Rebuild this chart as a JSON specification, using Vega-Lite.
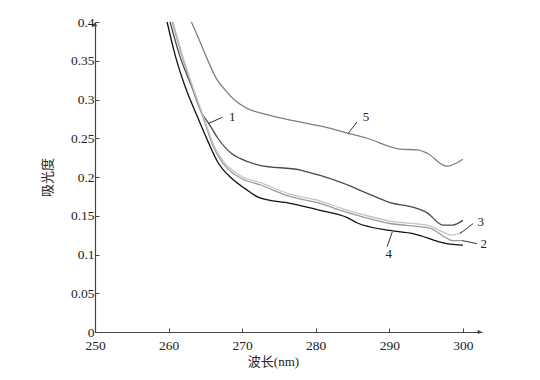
{
  "$schema": "https://vega.github.io/schema/vega-lite/v6.json",
  "width": 387,
  "height": 310,
  "autosize": {"type": "none"},
  "padding": {"left": 95, "top": 22, "right": 58, "bottom": 48},
  "background": "white",
  "config": {
    "view": {"stroke": null},
    "font": "Liberation Serif",
    "axis": {
      "grid": false,
      "domainColor": "#444",
      "domainWidth": 1.2,
      "tickColor": "#444",
      "tickSize": -4,
      "labelFont": "Liberation Serif",
      "labelFontSize": 13.5,
      "labelColor": "#222",
      "labelOverlap": false,
      "labelFlush": false,
      "titleFont": "Liberation Serif, Noto Sans CJK SC",
      "titleFontSize": 13,
      "titleFontWeight": "normal",
      "titleColor": "#222"
    }
  },
  "datasets": {
    "curves": [
      {"s": "4", "x": 259.8, "y": 0.400},
      {"s": "4", "x": 260.9, "y": 0.357},
      {"s": "4", "x": 262.2, "y": 0.318},
      {"s": "4", "x": 264.0, "y": 0.276},
      {"s": "4", "x": 265.4, "y": 0.245},
      {"s": "4", "x": 266.7, "y": 0.219},
      {"s": "4", "x": 268.6, "y": 0.198},
      {"s": "4", "x": 270.4, "y": 0.185},
      {"s": "4", "x": 272.4, "y": 0.173},
      {"s": "4", "x": 276.5, "y": 0.166},
      {"s": "4", "x": 280.6, "y": 0.157},
      {"s": "4", "x": 284.2, "y": 0.148},
      {"s": "4", "x": 285.6, "y": 0.141},
      {"s": "4", "x": 290.1, "y": 0.131},
      {"s": "4", "x": 293.2, "y": 0.127},
      {"s": "4", "x": 297.8, "y": 0.114},
      {"s": "4", "x": 300.0, "y": 0.112},
      {"s": "1", "x": 260.2, "y": 0.400},
      {"s": "1", "x": 261.5, "y": 0.357},
      {"s": "1", "x": 263.2, "y": 0.315},
      {"s": "1", "x": 264.5, "y": 0.283},
      {"s": "1", "x": 265.6, "y": 0.267},
      {"s": "1", "x": 266.7, "y": 0.250},
      {"s": "1", "x": 268.6, "y": 0.230},
      {"s": "1", "x": 269.7, "y": 0.224},
      {"s": "1", "x": 272.4, "y": 0.215},
      {"s": "1", "x": 277.9, "y": 0.209},
      {"s": "1", "x": 280.6, "y": 0.202},
      {"s": "1", "x": 283.7, "y": 0.192},
      {"s": "1", "x": 287.0, "y": 0.179},
      {"s": "1", "x": 290.1, "y": 0.167},
      {"s": "1", "x": 293.2, "y": 0.161},
      {"s": "1", "x": 295.1, "y": 0.154},
      {"s": "1", "x": 297.3, "y": 0.138},
      {"s": "1", "x": 298.6, "y": 0.138},
      {"s": "1", "x": 300.0, "y": 0.144},
      {"s": "2", "x": 260.5, "y": 0.400},
      {"s": "2", "x": 261.8, "y": 0.357},
      {"s": "2", "x": 264.9, "y": 0.271},
      {"s": "2", "x": 266.0, "y": 0.241},
      {"s": "2", "x": 267.3, "y": 0.219},
      {"s": "2", "x": 269.7, "y": 0.199},
      {"s": "2", "x": 272.4, "y": 0.190},
      {"s": "2", "x": 276.5, "y": 0.175},
      {"s": "2", "x": 280.6, "y": 0.166},
      {"s": "2", "x": 283.7, "y": 0.156},
      {"s": "2", "x": 287.0, "y": 0.147},
      {"s": "2", "x": 290.1, "y": 0.140},
      {"s": "2", "x": 295.5, "y": 0.134},
      {"s": "2", "x": 297.8, "y": 0.121},
      {"s": "2", "x": 298.6, "y": 0.118},
      {"s": "2", "x": 299.9, "y": 0.118},
      {"s": "3", "x": 260.6, "y": 0.400},
      {"s": "3", "x": 261.9, "y": 0.357},
      {"s": "3", "x": 265.0, "y": 0.271},
      {"s": "3", "x": 266.1, "y": 0.242},
      {"s": "3", "x": 267.4, "y": 0.221},
      {"s": "3", "x": 269.7, "y": 0.202},
      {"s": "3", "x": 272.4, "y": 0.193},
      {"s": "3", "x": 276.5, "y": 0.178},
      {"s": "3", "x": 280.6, "y": 0.169},
      {"s": "3", "x": 283.7, "y": 0.159},
      {"s": "3", "x": 287.0, "y": 0.150},
      {"s": "3", "x": 290.1, "y": 0.143},
      {"s": "3", "x": 295.5, "y": 0.137},
      {"s": "3", "x": 297.3, "y": 0.129},
      {"s": "3", "x": 298.5, "y": 0.125},
      {"s": "3", "x": 299.9, "y": 0.129},
      {"s": "5", "x": 263.1, "y": 0.400},
      {"s": "5", "x": 264.3, "y": 0.374},
      {"s": "5", "x": 265.4, "y": 0.349},
      {"s": "5", "x": 266.5, "y": 0.327},
      {"s": "5", "x": 267.7, "y": 0.312},
      {"s": "5", "x": 269.0, "y": 0.299},
      {"s": "5", "x": 270.8, "y": 0.288},
      {"s": "5", "x": 273.1, "y": 0.281},
      {"s": "5", "x": 275.8, "y": 0.275},
      {"s": "5", "x": 279.4, "y": 0.268},
      {"s": "5", "x": 281.9, "y": 0.263},
      {"s": "5", "x": 284.2, "y": 0.257},
      {"s": "5", "x": 287.0, "y": 0.250},
      {"s": "5", "x": 291.4, "y": 0.236},
      {"s": "5", "x": 293.8, "y": 0.235},
      {"s": "5", "x": 295.1, "y": 0.231},
      {"s": "5", "x": 297.8, "y": 0.214},
      {"s": "5", "x": 300.0, "y": 0.223}
    ],
    "leaders": [
      {"x": 265.4, "y": 0.269, "x2": 267.3, "y2": 0.277},
      {"x": 284.4, "y": 0.256, "x2": 285.6, "y2": 0.271},
      {"x": 299.6, "y": 0.127, "x2": 301.4, "y2": 0.140},
      {"x": 299.9, "y": 0.118, "x2": 301.9, "y2": 0.114},
      {"x": 290.4, "y": 0.129, "x2": 289.7, "y2": 0.110}
    ],
    "texts": [
      {"t": "1", "x": 268.2, "y": 0.277},
      {"t": "5", "x": 286.4, "y": 0.277},
      {"t": "3", "x": 302.0, "y": 0.142},
      {"t": "2", "x": 302.4, "y": 0.114},
      {"t": "4", "x": 289.5, "y": 0.101}
    ],
    "arrows": [
      {"x": 302.3, "y": 0, "shape": "triangle-right"},
      {"x": 250, "y": 0.397, "shape": "triangle-up"}
    ]
  },
  "encoding": {
    "x": {
      "field": "x", "type": "quantitative",
      "scale": {"domain": [250, 302.6], "nice": false, "zero": false},
      "axis": {"values": [250, 260, 270, 280, 290, 300], "title": "波长(nm)", "labelPadding": 10, "titlePadding": 4, "titleX": 178, "titleAnchor": "middle", "labelOverlap": false, "labelFlush": false}
    },
    "y": {
      "field": "y", "type": "quantitative",
      "scale": {"domain": [0, 0.4], "nice": false},
      "axis": {"values": [0, 0.05, 0.1, 0.15, 0.2, 0.25, 0.3, 0.35, 0.4], "format": "~g", "title": "吸光度", "labelPadding": 5, "titlePadding": 16, "labelOverlap": false, "labelFlush": false}
    }
  },
  "layer": [
    {
      "data": {"name": "curves"},
      "mark": {"type": "line", "strokeWidth": 1.3, "interpolate": "monotone"},
      "encoding": {
        "color": {
          "field": "s", "type": "nominal",
          "scale": {"domain": ["1", "2", "3", "4", "5"], "range": ["#4a4a4a", "#9a9a9a", "#c4c4c4", "#111111", "#808080"]},
          "legend": null
        },
        "detail": {"field": "s"}
      }
    },
    {
      "data": {"name": "leaders"},
      "mark": {"type": "rule", "color": "#333", "strokeWidth": 1},
      "encoding": {
        "x2": {"field": "x2"},
        "y2": {"field": "y2"}
      }
    },
    {
      "data": {"name": "texts"},
      "mark": {"type": "text", "font": "Liberation Serif", "fontSize": 13, "color": "#222", "align": "left", "baseline": "middle"},
      "encoding": {
        "text": {"field": "t"}
      }
    },
    {
      "data": {"name": "arrows"},
      "mark": {"type": "point", "filled": true, "color": "#444", "size": 22, "opacity": 1},
      "encoding": {
        "shape": {"field": "shape", "type": "nominal", "scale": null}
      }
    }
  ]
}
